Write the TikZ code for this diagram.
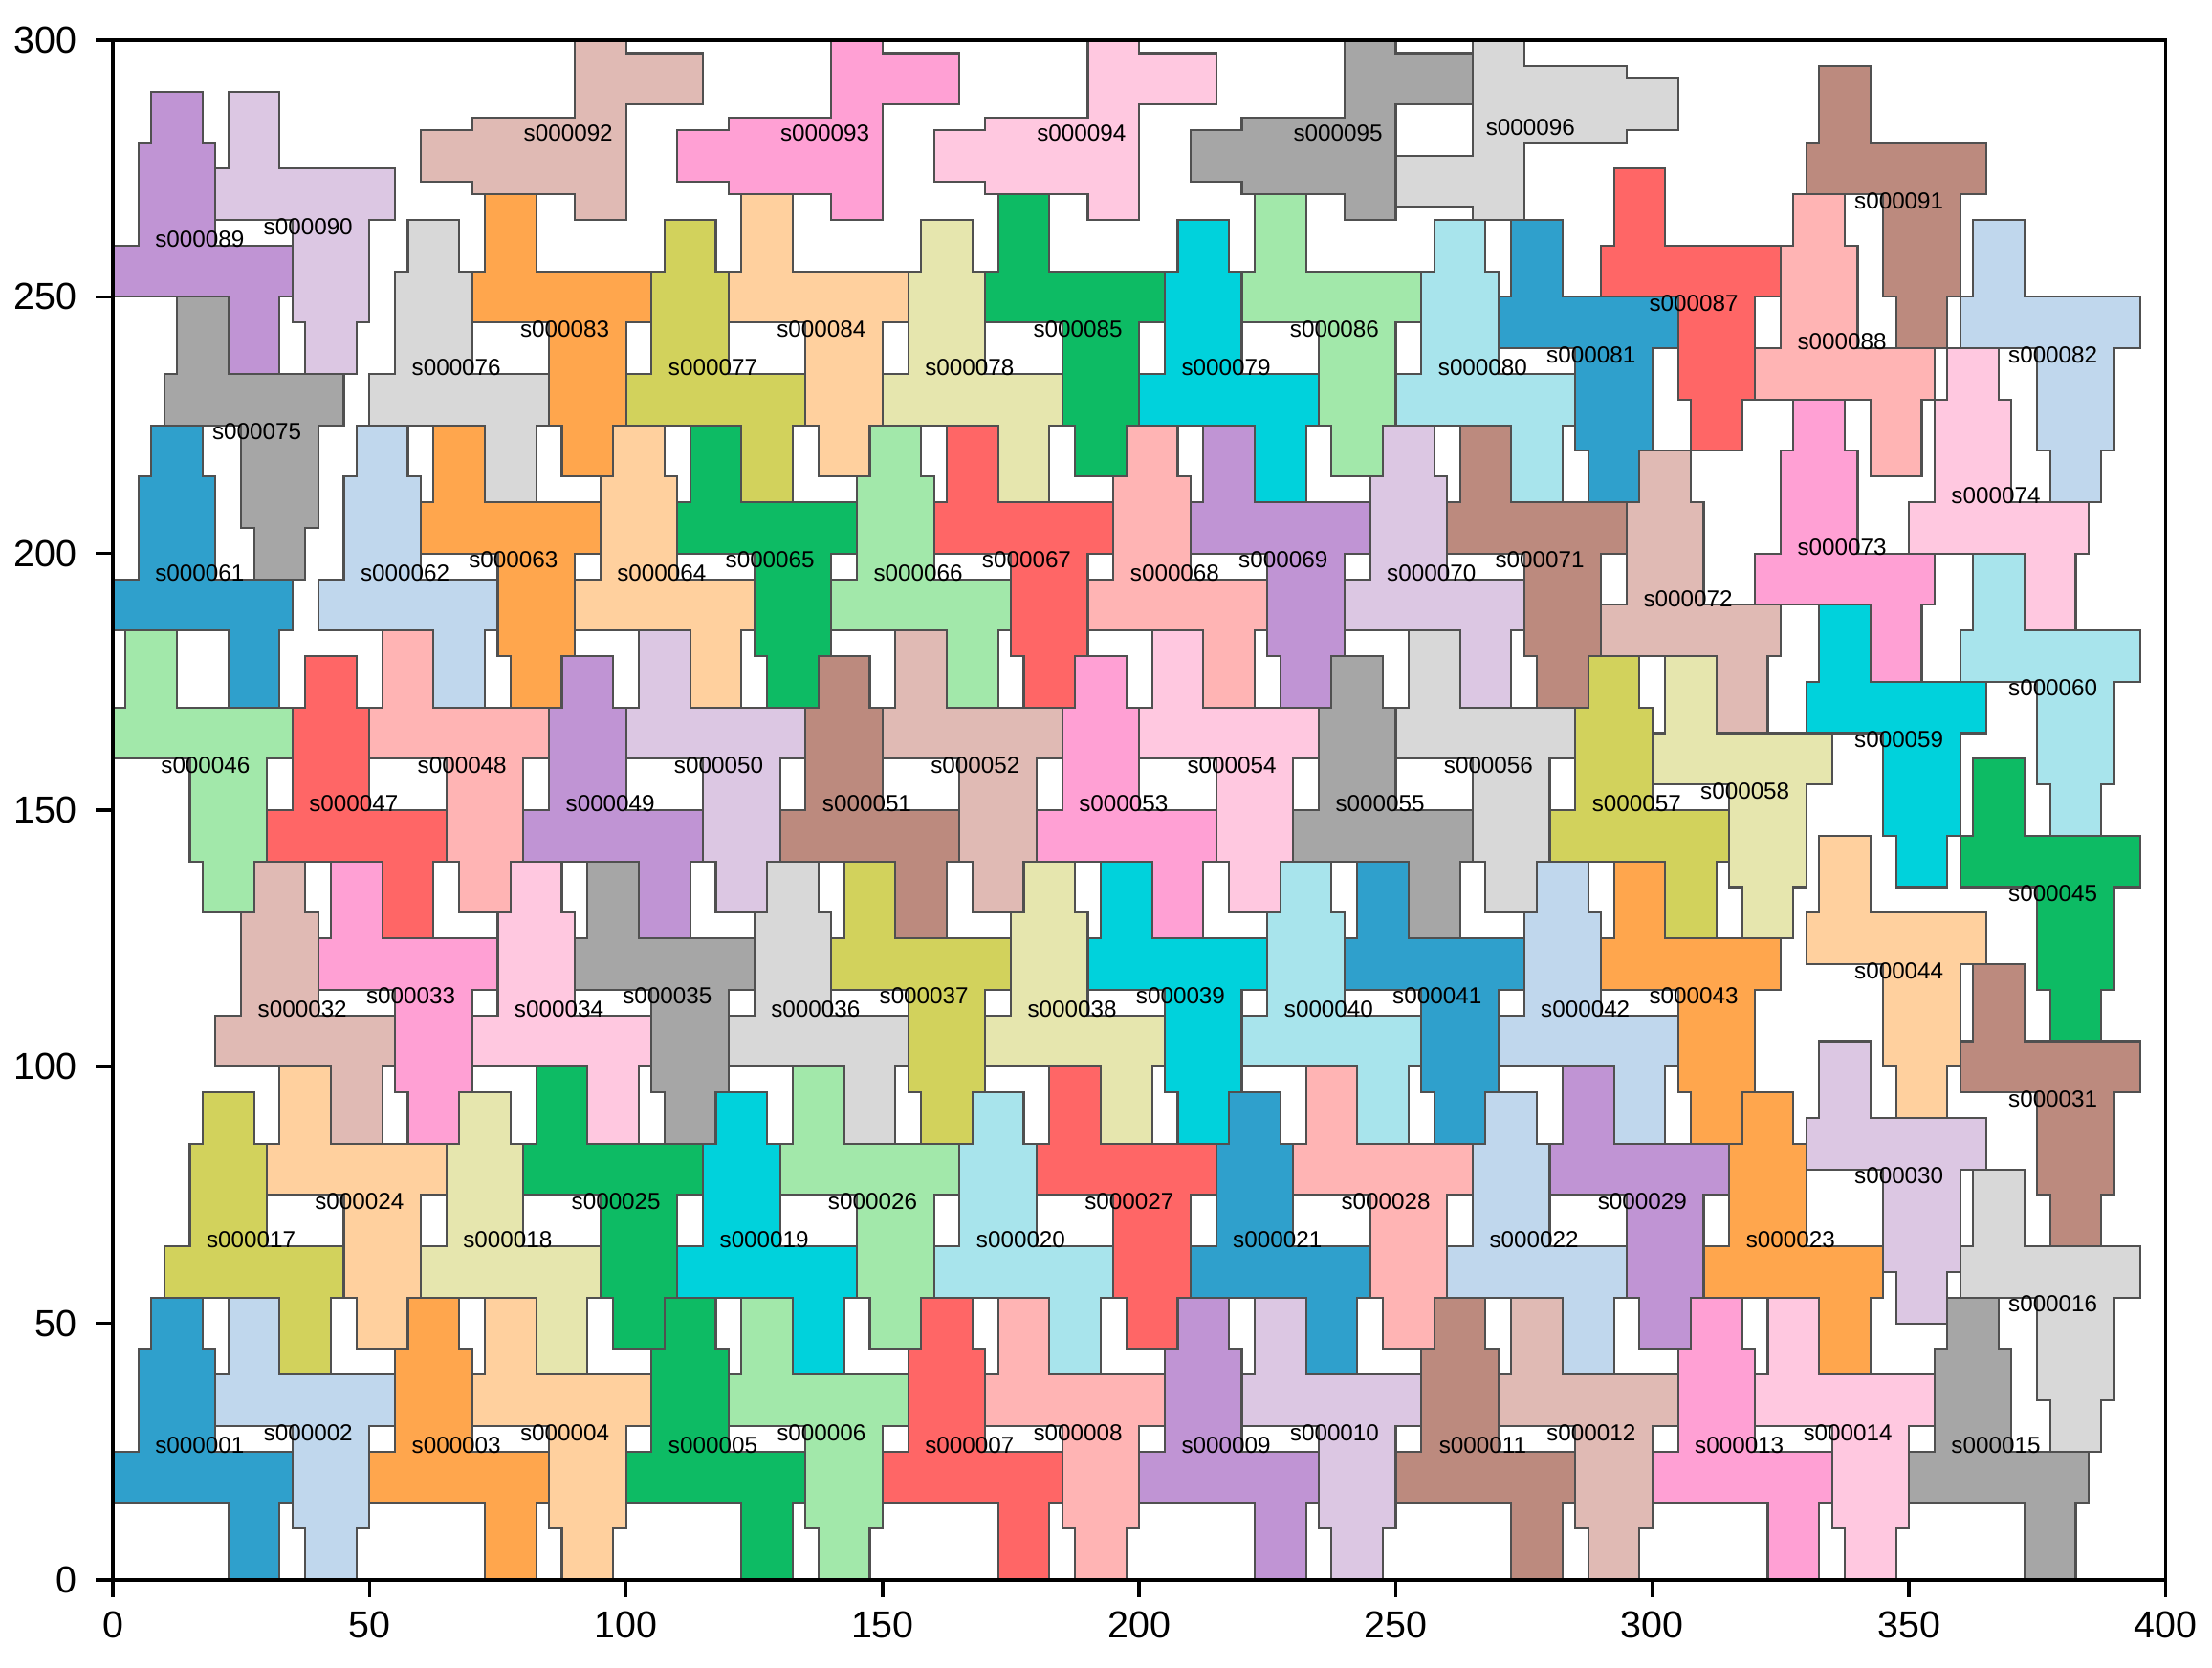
\documentclass[tikz,border=0pt]{standalone}
\usepackage{fontspec}
\setmainfont{Liberation Sans}
\definecolor{col0}{RGB}{47,160,204}
\definecolor{col1}{RGB}{192,215,237}
\definecolor{col2}{RGB}{255,166,77}
\definecolor{col3}{RGB}{255,208,158}
\definecolor{col4}{RGB}{13,187,100}
\definecolor{col5}{RGB}{162,232,170}
\definecolor{col6}{RGB}{255,102,102}
\definecolor{col7}{RGB}{255,180,180}
\definecolor{col8}{RGB}{192,148,212}
\definecolor{col9}{RGB}{220,199,227}
\definecolor{col10}{RGB}{188,138,126}
\definecolor{col11}{RGB}{224,186,180}
\definecolor{col12}{RGB}{255,160,212}
\definecolor{col13}{RGB}{255,200,224}
\definecolor{col14}{RGB}{166,166,166}
\definecolor{col15}{RGB}{216,216,216}
\definecolor{col16}{RGB}{210,210,92}
\definecolor{col17}{RGB}{230,230,174}
\definecolor{col18}{RGB}{0,210,220}
\definecolor{col19}{RGB}{168,228,236}
\definecolor{edgegray}{RGB}{80,80,80}
\tikzset{
  piece/.style={draw=edgegray, line width=0.6pt, line join=miter},
  lbl/.style={font=\fontsize{6.9}{8}\selectfont, inner sep=0pt, text=black},
  spine/.style={line width=1pt, draw=black},
  ticklbl/.style={font=\fontsize{11.2}{13}\selectfont, inner sep=0pt, text=black}
}
\newcommand{\pieceA}[3]{\filldraw[piece,fill=#3,shift={(#1,#2)}] (22.5,0) -- (32.5,0) -- (32.5,15) -- (35,15) -- (35,25) -- (20,25) -- (20,45) -- (17.5,45) -- (17.5,55) -- (7.5,55) -- (7.5,45) -- (5,45) -- (5,25) -- (0,25) -- (0,15) -- (22.5,15) -- cycle;}
\newcommand{\pieceB}[3]{\filldraw[piece,fill=#3,shift={(#1,#2)}] (12.5,55) -- (2.5,55) -- (2.5,40) -- (0,40) -- (0,30) -- (15,30) -- (15,10) -- (17.5,10) -- (17.5,0) -- (27.5,0) -- (27.5,10) -- (30,10) -- (30,30) -- (35,30) -- (35,40) -- (12.5,40) -- cycle;}
\newcommand{\pieceR}[3]{\filldraw[piece,fill=#3,shift={(#1,#2)}] (55,22.5) -- (55,32.5) -- (40,32.5) -- (40,35) -- (30,35) -- (30,20) -- (10,20) -- (10,17.5) -- (0,17.5) -- (0,7.5) -- (10,7.5) -- (10,5) -- (30,5) -- (30,0) -- (40,0) -- (40,22.5) -- cycle;}
\newcommand{\pieceS}[3]{\filldraw[piece,fill=#3,shift={(#1,#2)}] (0,12.5) -- (0,2.5) -- (15,2.5) -- (15,0) -- (25,0) -- (25,15) -- (45,15) -- (45,17.5) -- (55,17.5) -- (55,27.5) -- (45,27.5) -- (45,30) -- (25,30) -- (25,35) -- (15,35) -- (15,12.5) -- cycle;}
\def\cxA{16.94}\def\cyA{26.25}
\def\cxB{18.06}\def\cyB{28.75}
\def\cxR{28.75}\def\cyR{16.94}
\def\cxS{26.25}\def\cyS{18.06}
\def\piecelist{A/0/0/0/01, B/20/0/1/02, A/50/0/2/03, B/70/0/3/04, A/100/0/4/05, B/120/0/5/06, A/150/0/6/07, B/170/0/7/08, A/200/0/8/09, B/220/0/9/10, A/250/0/10/11, B/270/0/11/12, A/300/0/12/13, B/320/0/13/14, A/350/0/14/15, B/360/25/15/16,
A/10/40/16/17, A/60/40/17/18, A/110/40/18/19, A/160/40/19/20, A/210/40/0/21, A/260/40/1/22, A/310/40/2/23, B/30/45/3/24, B/80/45/4/25, B/130/45/5/26, B/180/45/6/27, B/230/45/7/28, B/280/45/8/29, B/330/50/9/30, B/360/65/10/31,
A/20/85/11/32, B/40/85/12/33, A/70/85/13/34, B/90/85/14/35, A/120/85/15/36, B/140/85/16/37, A/170/85/17/38, B/190/85/18/39, A/220/85/19/40, B/240/85/0/41, A/270/85/1/42, B/290/85/2/43, B/330/90/3/44, B/360/105/4/45,
B/0/130/5/46, A/30/125/6/47, B/50/130/7/48, A/80/125/8/49, B/100/130/9/50, A/130/125/10/51, B/150/130/11/52, A/180/125/12/53, B/200/130/13/54, A/230/125/14/55, B/250/130/15/56, A/280/125/16/57, B/300/125/17/58, B/330/135/18/59, B/360/145/19/60,
A/0/170/0/61, A/40/170/1/62, B/60/170/2/63, A/90/170/3/64, B/110/170/4/65, A/140/170/5/66, B/160/170/6/67, A/190/170/7/68, B/210/170/8/69, A/240/170/9/70, B/260/170/10/71, A/290/165/11/72, A/320/175/12/73, A/350/185/13/74,
B/10/195/14/75, A/50/210/15/76, A/100/210/16/77, A/150/210/17/78, A/200/210/18/79, A/250/210/19/80, B/270/210/0/81, B/360/210/1/82, B/70/215/2/83, B/120/215/3/84, B/170/215/4/85, B/220/215/5/86, B/290/220/6/87, A/320/215/7/88,
A/0/235/8/89, B/20/235/9/90, B/330/240/10/91, R/60/265/11/92, R/110/265/12/93, R/160/265/13/94, R/210/265/14/95, S/250/265/15/96}
\begin{document}
\begin{tikzpicture}[x=0.5366mm,y=0.5366mm]
\useasboundingbox (-21.99,-17.15) rectangle (409.06,307.86);
\foreach \o/\px/\py/\c/\n in \piecelist {
  \csname piece\o\endcsname{\px}{\py}{col\c}
}
\foreach \o/\px/\py/\c/\n in \piecelist {
  \pgfmathsetmacro\lx{\px+\csname cx\o\endcsname}
  \pgfmathsetmacro\ly{\py+\csname cy\o\endcsname}
  \node[lbl] (s0000\n) at (\lx,\ly) {s0000\n};
}
\draw[spine] (0,0) rectangle (400,300);
\foreach \v in {0,50,...,400} {
  \draw[spine] (\v,0) -- (\v,-3.3);
  \node[ticklbl] (xt\v) at (\v,-8.8) {\v};
}
\foreach \v in {0,50,...,300} {
  \draw[spine] (0,\v) -- (-3.3,\v);
  \node[ticklbl,anchor=east] (yt\v) at (-6.9,\v) {\v};
}
\end{tikzpicture}
\end{document}
